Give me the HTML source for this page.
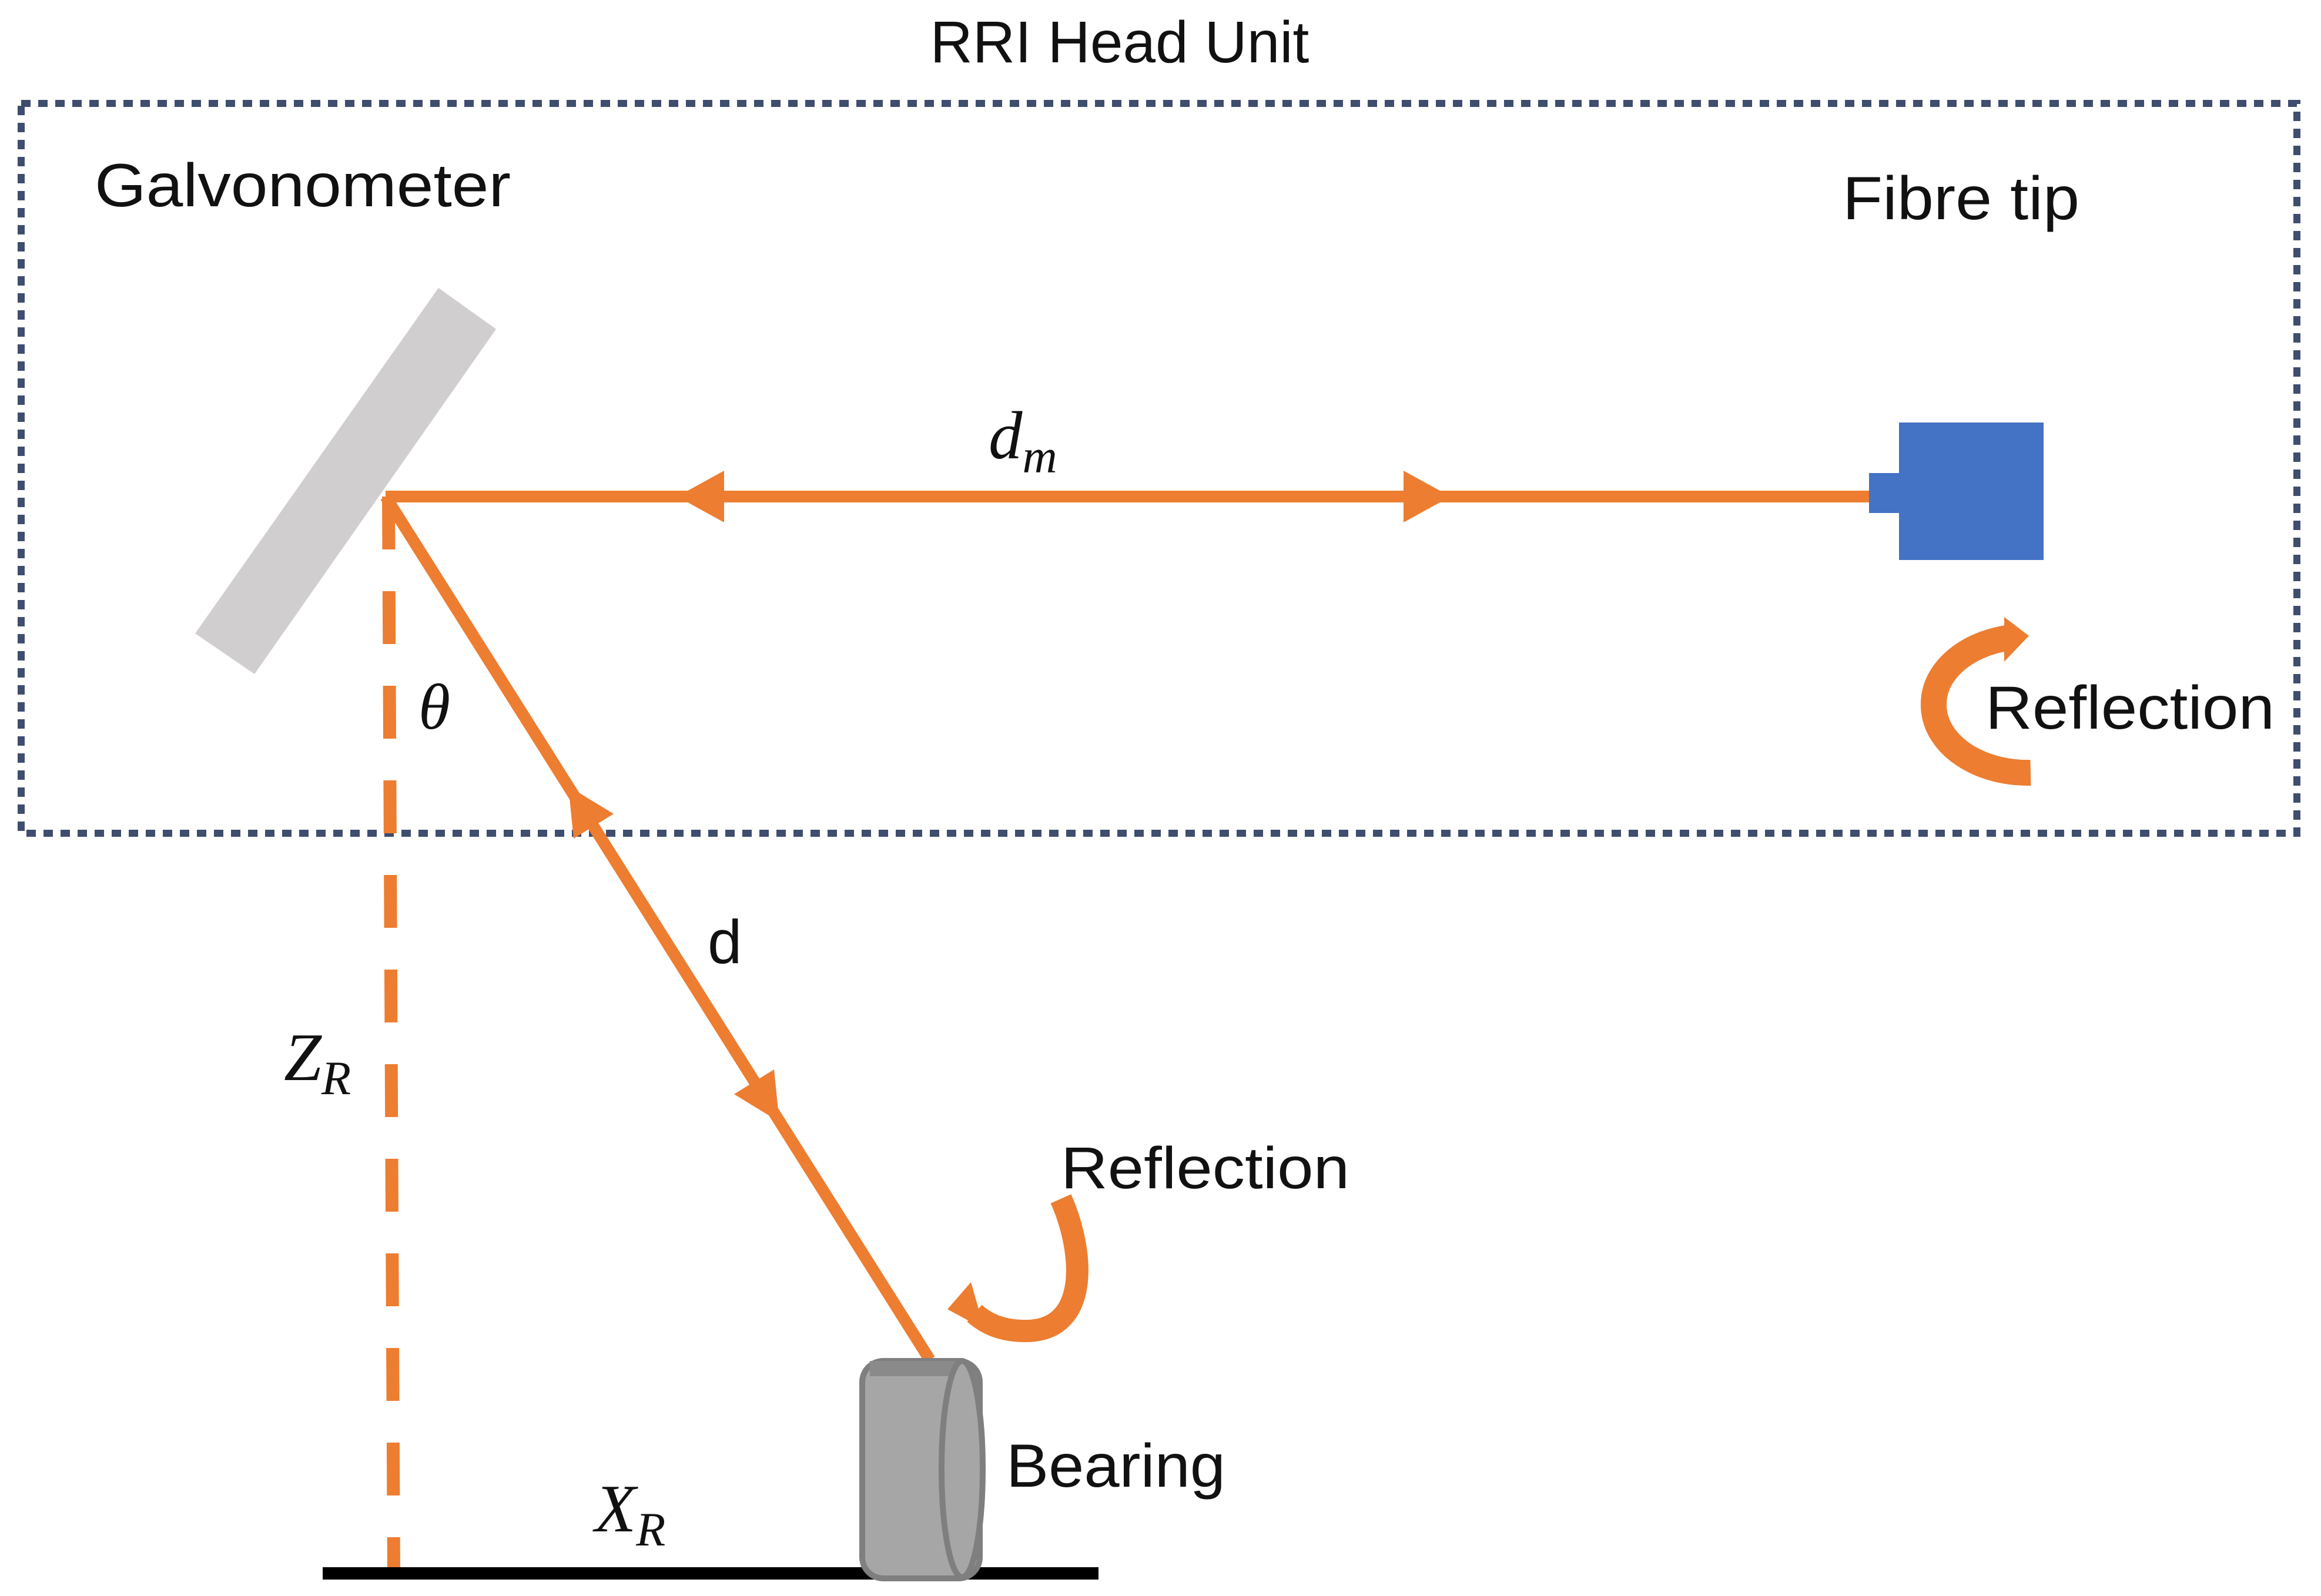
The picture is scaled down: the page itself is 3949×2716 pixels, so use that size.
<!DOCTYPE html>
<html><head><meta charset="utf-8"><style>
html,body{margin:0;padding:0;background:#fff;}
svg{display:block;}
text{font-family:"Liberation Sans",sans-serif;fill:#111;}
.m{font-family:"Liberation Serif",serif;font-style:italic;}
</style></head><body>
<svg width="3949" height="2716" viewBox="0 0 3949 2716" xmlns="http://www.w3.org/2000/svg">
<rect width="3949" height="2716" fill="#fff"/>
<rect x="36" y="176" width="3872" height="1242" fill="none" stroke="#3f4d6e" stroke-width="12" stroke-dasharray="16 13"/>
<text x="1905" y="106" font-size="100" text-anchor="middle">RRI Head Unit</text>
<text x="161" y="351" font-size="104" textLength="708" lengthAdjust="spacingAndGlyphs">Galvonometer</text>
<text x="3135" y="373" font-size="104" textLength="403" lengthAdjust="spacingAndGlyphs">Fibre tip</text>
<polygon points="746,490 844,560 433,1147 332,1078" fill="#d0cece"/>
<line x1="661" y1="845" x2="670" y2="2680" stroke="#ed7d31" stroke-width="22" stroke-dasharray="90 71"/>
<rect x="549" y="2667" width="1320" height="21" fill="#000"/>
<line x1="656" y1="845" x2="3185" y2="845" stroke="#ed7d31" stroke-width="20"/>
<polygon points="1152,845 1232,801 1232,889" fill="#ed7d31"/>
<polygon points="2468,845 2388,801 2388,889" fill="#ed7d31"/>
<line x1="656" y1="845" x2="1582" y2="2314" stroke="#ed7d31" stroke-width="20"/>
<polygon points="967,1338 1044,1385 976,1427" fill="#ed7d31"/>
<polygon points="1326,1909 1317,1820 1249,1862" fill="#ed7d31"/>
<rect x="3231" y="719" width="246" height="234" fill="#4472c4"/>
<rect x="3180" y="805" width="55" height="68" fill="#4472c4"/>
<path d="M3455,1315 A160,115 0 0 1 3290,1200 A160,115 0 0 1 3420,1085" fill="none" stroke="#ed7d31" stroke-width="44"/>
<polygon points="3452,1082 3410,1050 3410,1126" fill="#ed7d31"/>
<text x="3378" y="1240" font-size="104" textLength="492" lengthAdjust="spacingAndGlyphs">Reflection</text>
<path d="M1805,2040 C1845,2130 1855,2265 1745,2265 C1700,2265 1675,2250 1658,2235" fill="none" stroke="#ed7d31" stroke-width="38"/>
<polygon points="1612,2228 1652,2182 1675,2262" fill="#ed7d31"/>
<text x="1805" y="2022" font-size="100" textLength="491" lengthAdjust="spacingAndGlyphs">Reflection</text>
<rect x="1467" y="2316" width="200" height="370" rx="36" ry="36" fill="#a6a6a6" stroke="#7f7f7f" stroke-width="10"/>
<rect x="1480" y="2316" width="170" height="26" fill="#8a8a8a"/>
<ellipse cx="1637" cy="2500" rx="35" ry="184" fill="#a6a6a6" stroke="#7f7f7f" stroke-width="10"/>
<text x="1712" y="2530" font-size="104" textLength="373" lengthAdjust="spacingAndGlyphs">Bearing</text>
<text class="m" x="1682" y="780" font-size="115">d<tspan font-size="82" dy="24">m</tspan></text>
<text class="m" x="712" y="1240" font-size="110">θ</text>
<text x="1204" y="1639" font-size="105">d</text>
<text class="m" x="483" y="1838" font-size="115">Z<tspan font-size="82" dy="24">R</tspan></text>
<text class="m" x="1012" y="2606" font-size="115">X<tspan font-size="82" dy="24">R</tspan></text>
</svg>
</body></html>
